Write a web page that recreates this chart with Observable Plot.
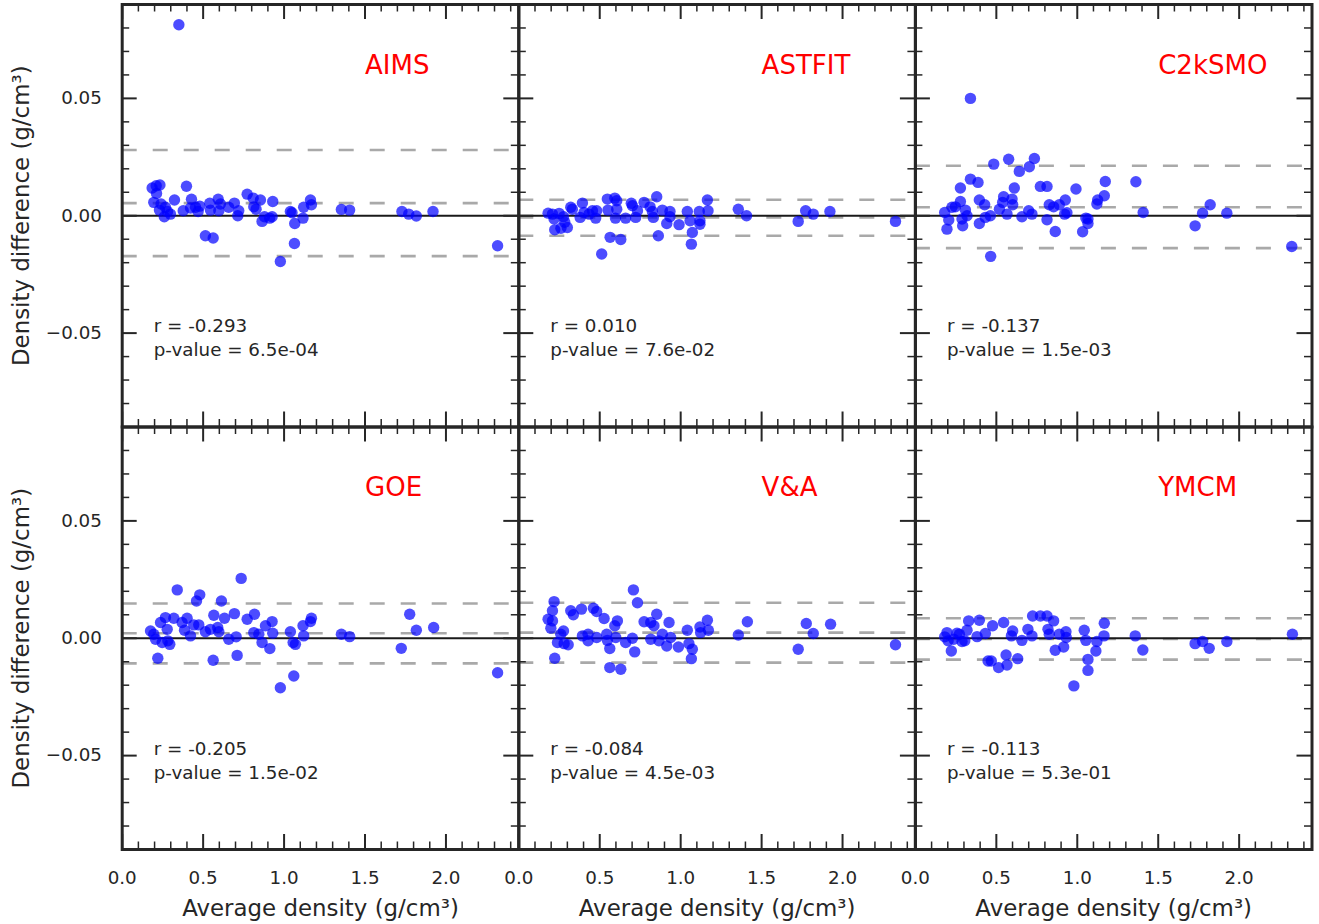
<!DOCTYPE html>
<html><head><meta charset="utf-8">
<script src="https://cdn.jsdelivr.net/npm/d3@7"></script>
<script src="https://cdn.jsdelivr.net/npm/@observablehq/plot@0.6"></script>
<style>
html,body{margin:0;padding:0;background:#fff;}
#chart svg{font-family:"DejaVu Sans",sans-serif;}
</style></head>
<body><div id="chart"></div>
<script>
const models = ["AIMS", "ASTFIT", "C2kSMO", "GOE", "V&A", "YMCM"];
const rValues = ["-0.293", "0.010", "-0.137", "-0.205", "-0.084", "-0.113"];
const pValues = ["6.5e-04", "7.6e-02", "1.5e-03", "1.5e-02", "4.5e-03", "5.3e-01"];
const meanDiff = [0.0054, -0.0007, 0.0036, 0.0021, 0.0024, -0.0003];
const upperLimit = [0.0280, 0.0068, 0.0213, 0.0148, 0.0151, 0.0085];
const lowerLimit = [-0.0172, -0.0085, -0.0138, -0.0107, -0.0104, -0.0091];
const xTickLabels = [0, 0.5, 1, 1.5, 2];
const yTickLabels = [-0.05, 0, 0.05];
const xLabel = "Average density (g/cm³)";
const yLabel = "Density difference (g/cm³)";

const AIMS = [[0.35,0.0814],[0.185,0.0118],[0.21,0.0128],[0.233,0.0131],[0.212,0.0095],[0.195,0.0057],[0.24,0.005],[0.23,0.0024],[0.267,0.0036],[0.28,0.0018],[0.26,-0.0004],[0.298,0.0007],[0.323,0.0067],[0.397,0.0126],[0.377,0.0021],[0.428,0.007],[0.422,0.0033],[0.453,0.0036],[0.479,0.0041],[0.469,0.0018],[0.514,-0.0085],[0.562,-0.0095],[0.541,0.0053],[0.545,0.0024],[0.593,0.007],[0.607,0.005],[0.597,0.0021],[0.658,0.0036],[0.693,0.0054],[0.72,0.0021],[0.714,0.0],[0.772,0.0092],[0.809,0.0075],[0.854,0.0067],[0.813,0.0038],[0.827,0.0028],[0.864,-0.0024],[0.879,-0.0004],[0.911,-0.001],[0.93,0.0061],[0.926,-0.0004],[0.977,-0.0195],[1.039,0.0018],[1.049,0.0013],[1.066,-0.0033],[1.064,-0.0118],[1.117,-0.001],[1.121,0.0036],[1.163,0.0067],[1.169,0.0047],[1.354,0.0027],[1.405,0.0024],[1.728,0.0018],[1.77,0.0007],[1.817,-0.0001],[1.92,0.0018],[2.319,-0.0128]];
const ASTFIT = [[0.181,0.0011],[0.208,0.0007],[0.218,-0.0014],[0.222,-0.006],[0.249,0.001],[0.26,-0.0053],[0.276,-0.0004],[0.284,-0.0028],[0.3,-0.005],[0.321,0.0036],[0.331,0.0028],[0.379,-0.0007],[0.393,0.0054],[0.403,0.0014],[0.434,0.0007],[0.455,0.0021],[0.475,-0.001],[0.481,0.0021],[0.512,-0.0163],[0.547,0.0071],[0.551,0.0024],[0.564,-0.0092],[0.593,0.0075],[0.605,0.0064],[0.597,-0.001],[0.605,0.0028],[0.63,-0.0101],[0.66,-0.001],[0.695,0.0053],[0.702,0.0043],[0.722,-0.0007],[0.733,0.0021],[0.774,0.0057],[0.811,0.0038],[0.825,0.0018],[0.831,-0.0007],[0.852,0.0081],[0.862,-0.0085],[0.887,0.0024],[0.914,-0.0033],[0.934,0.0018],[0.934,-0.0004],[0.99,-0.0038],[1.041,0.0018],[1.058,-0.0021],[1.072,-0.0071],[1.066,-0.0121],[1.115,0.0018],[1.119,-0.0021],[1.119,-0.0036],[1.165,0.0067],[1.169,0.0021],[1.356,0.0028],[1.407,0.0],[1.726,-0.0024],[1.772,0.0021],[1.819,0.0007],[1.922,0.0018],[2.327,-0.0024]];
const C2kSMO = [[0.34,0.05],[0.181,0.0014],[0.195,-0.0057],[0.206,-0.0018],[0.226,0.0036],[0.247,0.0038],[0.278,0.0118],[0.278,0.0061],[0.288,-0.0014],[0.292,-0.0043],[0.309,0.0024],[0.319,0.0],[0.34,0.0156],[0.387,0.0142],[0.395,0.0067],[0.395,-0.0033],[0.428,0.0047],[0.432,-0.0007],[0.463,0.0],[0.465,-0.0173],[0.484,0.022],[0.519,0.0028],[0.545,0.0081],[0.539,0.0057],[0.566,0.0007],[0.576,0.0241],[0.597,0.0071],[0.601,0.0047],[0.611,0.0118],[0.642,0.0189],[0.658,-0.0004],[0.7,0.0021],[0.704,0.0209],[0.72,0.0007],[0.735,0.0244],[0.772,0.0125],[0.813,0.0125],[0.813,-0.0017],[0.827,0.0047],[0.854,0.0038],[0.864,-0.0067],[0.889,0.0047],[0.922,0.0007],[0.926,0.0067],[0.936,0.0013],[0.992,0.0114],[1.033,-0.0068],[1.053,-0.001],[1.066,-0.0033],[1.066,-0.0014],[1.121,0.005],[1.126,0.0067],[1.167,0.0085],[1.173,0.0146],[1.362,0.0145],[1.407,0.0014],[1.728,-0.0043],[1.774,0.0011],[1.821,0.0047],[1.924,0.0011],[2.325,-0.0131]];
const GOE = [[0.175,0.0031],[0.195,0.0017],[0.206,-0.0004],[0.22,-0.0085],[0.237,0.0067],[0.247,-0.0018],[0.267,0.0088],[0.278,0.0038],[0.282,-0.0011],[0.294,-0.0026],[0.319,0.0085],[0.34,0.0206],[0.37,0.0067],[0.385,0.0034],[0.401,0.0085],[0.422,0.001],[0.442,0.0057],[0.459,0.0159],[0.479,0.0185],[0.473,0.0057],[0.514,0.0028],[0.545,0.0038],[0.562,-0.0094],[0.566,0.0098],[0.59,0.0046],[0.597,0.0028],[0.613,0.0159],[0.632,0.0085],[0.658,-0.0004],[0.693,0.0105],[0.704,0.0006],[0.71,-0.0073],[0.735,0.0255],[0.772,0.0081],[0.817,0.0102],[0.813,0.0024],[0.844,0.0017],[0.864,-0.0018],[0.885,0.0053],[0.912,-0.0044],[0.926,0.0071],[0.93,0.0021],[0.977,-0.0211],[1.039,0.0028],[1.056,-0.0018],[1.06,-0.0161],[1.07,-0.0026],[1.117,0.0053],[1.121,0.001],[1.163,0.0071],[1.169,0.0085],[1.354,0.0017],[1.405,0.0007],[1.724,-0.0043],[1.776,0.0102],[1.817,0.0034],[1.924,0.0046],[2.319,-0.0147]];
const VandA = [[0.181,0.0081],[0.208,0.0117],[0.218,0.0156],[0.208,0.0074],[0.198,0.0043],[0.222,-0.0085],[0.239,-0.0018],[0.259,0.0017],[0.276,0.0031],[0.28,-0.0023],[0.305,-0.0028],[0.321,0.0117],[0.337,0.01],[0.387,0.0124],[0.393,0.001],[0.428,0.0017],[0.428,-0.0011],[0.461,0.0128],[0.481,0.0114],[0.481,0.0003],[0.527,0.0084],[0.543,0.0017],[0.547,-0.0009],[0.562,-0.0044],[0.562,-0.0125],[0.593,0.0053],[0.599,0.0003],[0.609,0.0074],[0.63,-0.0132],[0.66,-0.0018],[0.702,0.0],[0.708,0.0206],[0.716,-0.0058],[0.733,0.0151],[0.774,0.007],[0.815,0.0067],[0.815,-0.0004],[0.835,0.0053],[0.852,0.0102],[0.866,-0.0011],[0.887,0.0017],[0.914,-0.0033],[0.928,0.0067],[0.938,0.0003],[0.986,-0.0037],[1.041,0.0034],[1.051,-0.0023],[1.072,-0.0047],[1.066,-0.0087],[1.119,0.0048],[1.123,0.0024],[1.165,0.0077],[1.171,0.0034],[1.356,0.0014],[1.412,0.007],[1.726,-0.0047],[1.776,0.0063],[1.819,0.002],[1.926,0.006],[2.327,-0.0028]];
const YMCM = [[0.181,0.0006],[0.195,0.0024],[0.202,-0.0011],[0.222,-0.0054],[0.237,-0.0004],[0.257,0.0021],[0.272,0.0017],[0.288,-0.0014],[0.305,-0.0011],[0.319,0.0034],[0.329,0.0074],[0.381,0.0007],[0.395,0.0077],[0.432,0.002],[0.449,-0.0097],[0.469,-0.0097],[0.477,0.0053],[0.514,-0.0125],[0.545,0.0067],[0.56,-0.0071],[0.566,-0.0114],[0.593,0.001],[0.601,0.0031],[0.632,-0.0087],[0.658,-0.0009],[0.695,0.0038],[0.72,0.001],[0.724,0.0095],[0.772,0.0095],[0.813,0.0095],[0.819,0.0038],[0.827,0.0017],[0.854,0.0074],[0.864,-0.0051],[0.889,0.0017],[0.916,-0.0037],[0.93,0.0028],[0.932,0.0003],[0.979,-0.0203],[1.043,0.0034],[1.053,-0.0009],[1.066,-0.009],[1.066,-0.0137],[1.115,-0.0054],[1.121,-0.0014],[1.165,0.001],[1.167,0.0064],[1.358,0.001],[1.405,-0.005],[1.728,-0.0023],[1.774,-0.0014],[1.815,-0.0043],[1.924,-0.0014],[2.329,0.0017]];
const series = [AIMS, ASTFIT, C2kSMO, GOE, VandA, YMCM];

// ---- derived tables ----
const panels = models.map((m, i) => ({model: m, col: i % 3, row: Math.floor(i / 3), r: rValues[i], p: pValues[i]}));
const points = [];
series.forEach((s, i) => s.forEach(([x, y]) => points.push({x, y, col: i % 3, row: Math.floor(i / 3)})));
const refLines = [];
models.forEach((m, i) => [meanDiff[i], upperLimit[i], lowerLimit[i]].forEach(v => refLines.push({v, col: i % 3, row: Math.floor(i / 3)})));
const xTickData = [];
[0, 1, 2].forEach(col => xTickLabels.forEach(v => xTickData.push({v, col, row: 1})));
const yTickData = [];
[0, 1].forEach(row => yTickLabels.forEach(v => yTickData.push({v, col: 0, row})));
const xLabelData = [0, 1, 2].map(col => ({col, row: 1, label: xLabel}));
const yLabelData = [0, 1].map(row => ({col: 0, row, label: yLabel}));

const xMajor = xTickLabels;
const xMinor = d3.range(25).filter(i => i % 5 !== 0).map(i => i / 10);
const yMajor = yTickLabels;
const yMinor = d3.range(-8, 9).filter(i => i % 5 !== 0).map(i => i / 100);

const width = 1319, height = 924;
const mL = 121.7, mR = 7.5, mT = 4, mB = 75;
const H = (height - mT - mB) / 2;
const W = (width - mL - mR) / 3;
const majLen = 15, minLen = 7.5;
const ink = "#262626";

const chart = Plot.plot({
  width, height,
  marginLeft: mL, marginRight: mR, marginTop: mT, marginBottom: mB,
  style: {fontFamily: "DejaVu Sans, sans-serif", background: "#fff"},
  fx: {domain: [0, 1, 2], padding: 0, round: false, axis: null},
  fy: {domain: [0, 1], padding: 0, round: false, axis: null},
  x: {domain: [0, 2.45], axis: null},
  y: {domain: [-0.09, 0.09], axis: null},
  marks: [
    Plot.ruleY(refLines, {y: "v", fx: "col", fy: "row", stroke: "#a9a9a9", strokeWidth: 2.6, strokeDasharray: "15,16"}),
    Plot.ruleY([0], {stroke: "#1a1a1a", strokeWidth: 1.8}),
    Plot.dot(points, {x: "x", y: "y", fx: "col", fy: "row", r: 5.7, fill: "#0000ff", fillOpacity: 0.7, stroke: "none"}),
    Plot.text(panels, {x: () => 1.5, y: () => 0.064, fx: "col", fy: "row", text: "model", textAnchor: "start", lineAnchor: "middle", fill: "#ff0000", fontSize: 26}),
    Plot.text(panels, {x: () => 0.195, y: () => -0.0471, fx: "col", fy: "row", text: d => "r = " + d.r, textAnchor: "start", lineAnchor: "middle", fill: ink, fontSize: 18.3}),
    Plot.text(panels, {x: () => 0.195, y: () => -0.0573, fx: "col", fy: "row", text: d => "p-value = " + d.p, textAnchor: "start", lineAnchor: "middle", fill: ink, fontSize: 18.3}),
    Plot.text(xTickData, {x: "v", fx: "col", fy: "row", frameAnchor: "bottom", textAnchor: "middle", lineAnchor: "middle", dy: 28.4, text: d => d3.format(".1f")(d.v), fill: ink, fontSize: 18.3}),
    Plot.text(yTickData, {y: "v", fx: "col", fy: "row", frameAnchor: "left", textAnchor: "end", lineAnchor: "middle", dx: -20.3, text: d => d3.format(".2f")(d.v), fill: ink, fontSize: 18.3}),
    Plot.text(xLabelData, {fx: "col", fy: "row", frameAnchor: "bottom", textAnchor: "middle", lineAnchor: "middle", dy: 58.7, text: "label", fill: ink, fontSize: 22.9}),
    Plot.text(yLabelData, {fx: "col", fy: "row", frameAnchor: "left", textAnchor: "middle", lineAnchor: "middle", rotate: -90, dx: -100.5, text: "label", fill: ink, fontSize: 22.9}),
    // inward ticks on all four sides
    Plot.ruleX(xMajor, {x: d => d, insetBottom: H - majLen, stroke: ink, strokeWidth: 2}),
    Plot.ruleX(xMajor, {x: d => d, insetTop: H - majLen, stroke: ink, strokeWidth: 2}),
    Plot.ruleX(xMinor, {x: d => d, insetBottom: H - minLen, stroke: ink, strokeWidth: 1.5}),
    Plot.ruleX(xMinor, {x: d => d, insetTop: H - minLen, stroke: ink, strokeWidth: 1.5}),
    Plot.ruleY(yMajor, {y: d => d, insetRight: W - majLen, stroke: ink, strokeWidth: 2}),
    Plot.ruleY(yMajor, {y: d => d, insetLeft: W - majLen, stroke: ink, strokeWidth: 2}),
    Plot.ruleY(yMinor, {y: d => d, insetRight: W - minLen, stroke: ink, strokeWidth: 1.5}),
    Plot.ruleY(yMinor, {y: d => d, insetLeft: W - minLen, stroke: ink, strokeWidth: 1.5}),
    Plot.frame({stroke: ink, strokeWidth: 3})
  ]
});
document.getElementById("chart").appendChild(chart);
</script>
</body></html>
